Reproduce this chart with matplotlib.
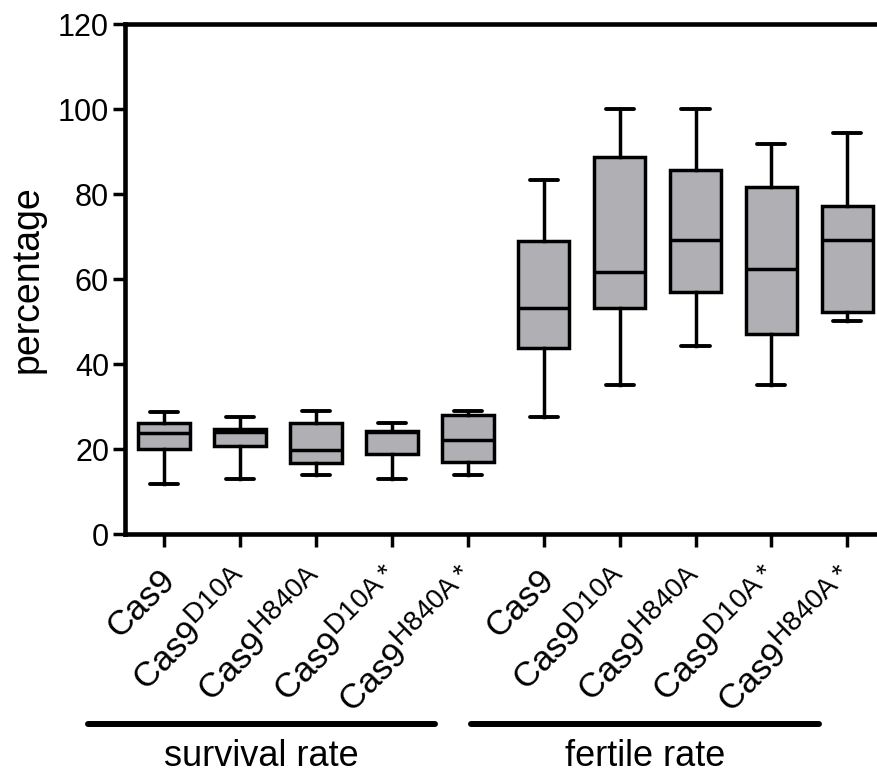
import numpy as np
import matplotlib
matplotlib.use('Agg')
import matplotlib.pyplot as plt
import matplotlib.transforms as mtransforms
import matplotlib._mathtext as mathtext_internal

plt.rcParams['font.family'] = ['Liberation Sans', 'DejaVu Sans']
plt.rcParams['mathtext.default'] = 'regular'
# superscripts in the original are only a bit smaller than the base text
mathtext_internal.SHRINK_FACTOR = 0.8

# Data
labels = ['Cas9', r'Cas9$^{\mathregular{D10A}}$', r'Cas9$^{\mathregular{H840A}}$',
          r'Cas9$^{\mathregular{D10A*}}$', r'Cas9$^{\mathregular{H840A*}}$'] * 2
groups = ['survival rate', 'fertile rate']

whislo = [11.9, 13.0, 14.0, 13.0, 14.0, 27.7, 35.2, 44.4, 35.2, 50.1]
q1 = [20.0, 20.8, 16.9, 18.9, 17.1, 43.8, 53.2, 57.1, 47.1, 52.2]
med = [23.8, 24.0, 19.95, 24.0, 22.2, 53.2, 61.6, 69.3, 62.5, 69.3]
q3 = [26.2, 24.75, 26.3, 24.4, 28.1, 68.9, 88.75, 85.8, 81.8, 77.3]
whishi = [28.75, 27.7, 29.1, 26.2, 29.1, 83.4, 100.0, 100.0, 91.9, 94.5]

stats = []
for i in range(len(labels)):
    stats.append({'whislo': whislo[i], 'q1': q1[i], 'med': med[i],
                  'q3': q3[i], 'whishi': whishi[i], 'fliers': []})

positions = np.arange(1, len(labels) + 1)

fig = plt.figure(figsize=(8.77, 7.78), dpi=100)
ax = fig.add_axes([0.1425, 0.313, 0.8575, 0.656])

line_kw = dict(color='black', linewidth=2.5)
ax.bxp(stats, positions=positions, widths=0.68, showfliers=False,
       patch_artist=True,
       boxprops=dict(facecolor='#b0afb4', edgecolor='black', linewidth=2.5),
       medianprops=line_kw, whiskerprops=line_kw,
       capprops=dict(color='black', linewidth=2.8, solid_capstyle='round'),
       capwidths=0.37)

ax.set_xlim(0.487, 10.39)
ax.set_ylim(0, 120)
ax.set_yticks(np.arange(0, 121, 20))
ax.tick_params(axis='y', labelsize=22, length=8.5, width=2.5, pad=3)
ax.tick_params(axis='x', labelsize=25, length=9, width=2.5, pad=12)

ax.set_xticks(positions)
ax.set_xticklabels(labels, rotation=45, ha='right', va='top', rotation_mode='anchor')
offset = mtransforms.ScaledTranslation(-0.06, 0, fig.dpi_scale_trans)
for lab in ax.get_xticklabels():
    lab.set_transform(lab.get_transform() + offset)

for side in ['left', 'bottom', 'top']:
    ax.spines[side].set_linewidth(3.3)
ax.spines['right'].set_visible(False)

ax.set_ylabel('percentage', fontsize=27)
ax.yaxis.set_label_coords(-0.106, 0.5)

# group bars and labels under the tick labels
trans = mtransforms.blended_transform_factory(ax.transData, fig.transFigure)
spans = [(0.0, 4.57), (5.05, 9.63)]
for (x0, x1), name in zip(spans, groups):
    ax.plot([x0, x1], [0.0694, 0.0694], color='black', linewidth=4.3,
            solid_capstyle='round', transform=trans, clip_on=False)
    ax.text((x0 + x1) / 2, 0.027, name, fontsize=26, ha='center', va='center',
            transform=trans)

fig.savefig('out.png', dpi=100)
